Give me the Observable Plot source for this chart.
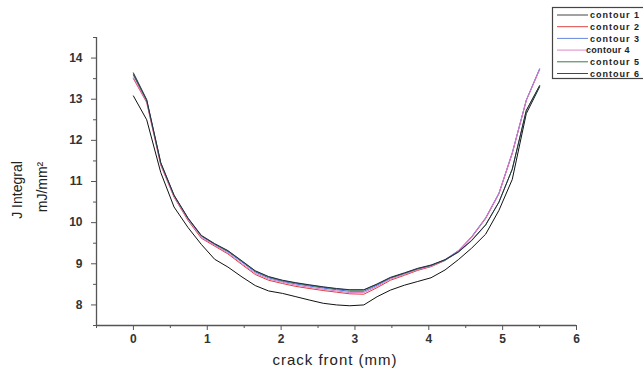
<!DOCTYPE html>
<html>
<head>
<meta charset="utf-8">
<script src="https://cdn.jsdelivr.net/npm/d3@7"></script>
<script src="https://cdn.jsdelivr.net/npm/@observablehq/plot@0.6"></script>
<style>
  html, body { margin: 0; padding: 0; background: #fff; }
  #chart { position: relative; width: 643px; height: 372px; }
</style>
</head>
<body>
<div id="chart"></div>
<script>
// crack-front positions (mm)
const xs = [0, 0.18, 0.37, 0.55, 0.74, 0.92, 1.1, 1.28, 1.47, 1.65, 1.83, 2.02, 2.2, 2.38, 2.57, 2.75, 2.93, 3.12, 3.3, 3.48, 3.67, 3.85, 4.03, 4.22, 4.4, 4.58, 4.77, 4.95, 5.13, 5.32, 5.5];

// J integral (mJ/mm^2) per contour
const contour1 = [13.08, 12.5, 11.22, 10.38, 9.88, 9.47, 9.11, 8.92, 8.68, 8.47, 8.34, 8.28, 8.2, 8.12, 8.04, 8.0, 7.98, 8.0, 8.2, 8.36, 8.48, 8.57, 8.66, 8.85, 9.1, 9.38, 9.72, 10.3, 11.05, 12.65, 13.3];
const contour2 = [13.5, 12.92, 11.4, 10.62, 10.05, 9.62, 9.43, 9.24, 8.98, 8.74, 8.6, 8.52, 8.45, 8.4, 8.35, 8.31, 8.27, 8.26, 8.42, 8.6, 8.72, 8.84, 8.93, 9.08, 9.3, 9.64, 10.1, 10.7, 11.68, 12.97, 13.72];
const contour3 = [13.58, 12.96, 11.44, 10.65, 10.1, 9.67, 9.47, 9.29, 9.04, 8.8, 8.66, 8.57, 8.51, 8.46, 8.41, 8.37, 8.33, 8.33, 8.48, 8.65, 8.76, 8.87, 8.95, 9.1, 9.32, 9.66, 10.12, 10.72, 11.7, 12.98, 13.74];
const contour4 = [13.52, 12.94, 11.42, 10.63, 10.07, 9.64, 9.45, 9.26, 9.0, 8.77, 8.63, 8.55, 8.48, 8.43, 8.38, 8.34, 8.3, 8.3, 8.45, 8.63, 8.74, 8.86, 8.94, 9.09, 9.31, 9.65, 10.11, 10.71, 11.69, 12.97, 13.72];
const contour5 = [13.6, 12.97, 11.45, 10.66, 10.1, 9.68, 9.48, 9.31, 9.06, 8.82, 8.68, 8.59, 8.53, 8.48, 8.43, 8.39, 8.36, 8.36, 8.5, 8.66, 8.77, 8.88, 8.96, 9.09, 9.28, 9.56, 9.94, 10.5, 11.3, 12.72, 13.32];
const contour6 = [13.64, 12.99, 11.46, 10.67, 10.11, 9.69, 9.49, 9.32, 9.07, 8.83, 8.69, 8.6, 8.54, 8.49, 8.44, 8.4, 8.37, 8.37, 8.51, 8.67, 8.78, 8.89, 8.97, 9.1, 9.29, 9.57, 9.95, 10.5, 11.3, 12.73, 13.33];

const seriesNames = ["contour 1", "contour 2", "contour 3", "contour 4", "contour 5", "contour 6"];
const seriesValues = [contour1, contour2, contour3, contour4, contour5, contour6];
const seriesColors = ["#111111", "#e03c3c", "#4a6fe0", "#e07ac8", "#2e7a3a", "#2a2a4a"];
const legendColors = ["#444444", "#dd4444", "#6688dd", "#dd88cc", "#3a7a4a", "#444455"];

const xTicks = [0, 1, 2, 3, 4, 5, 6];
const xMinor = [-0.5, 0.5, 1.5, 2.5, 3.5, 4.5, 5.5];
const yTicks = [8, 9, 10, 11, 12, 13, 14];
const yMinor = [7.5, 8.5, 9.5, 10.5, 11.5, 12.5, 13.5, 14.5];
const xDomain = [-0.5, 6];
const yDomain = [7.5, 14.5];

const lineMarks = seriesNames.map((name, i) =>
  Plot.line(xs.map((x, j) => ({x, y: seriesValues[i][j]})), {x: "x", y: "y", stroke: seriesColors[i], strokeWidth: 1})
);

const plot = Plot.plot({
  width: 643,
  height: 372,
  marginLeft: 96,
  marginRight: 67,
  marginTop: 37,
  marginBottom: 47,
  x: {domain: xDomain},
  y: {domain: yDomain},
  style: {fontFamily: "'Liberation Sans', Arial, sans-serif", fontSize: "12px", fontWeight: "bold", color: "#333", background: "#fff"},
  marks: [
    Plot.axisX(xTicks, {tickSize: 5, tickPadding: 4, label: null, stroke: "#555", fontWeight: "bold", letterSpacing: 1}),
    Plot.axisX(xMinor, {tickSize: 3, tickFormat: () => "", label: null, stroke: "#555"}),
    Plot.axisY(yTicks, {tickSize: 5, tickPadding: 9, label: null, stroke: "#555", fontWeight: "bold", letterSpacing: 1}),
    Plot.axisY(yMinor, {tickSize: 3, tickFormat: () => "", label: null, stroke: "#555"}),
    Plot.ruleY([yDomain[0]], {stroke: "#555", strokeWidth: 1.3}),
    Plot.ruleX([xDomain[0]], {stroke: "#555", strokeWidth: 1.3}),
    ...lineMarks
  ]
});

document.getElementById("chart").appendChild(plot);

const svg = d3.select(plot);
// axis titles
svg.append("text")
  .attr("x", 335).attr("y", 365)
  .attr("text-anchor", "middle")
  .attr("font-size", 15).attr("font-weight", "normal").attr("letter-spacing", 1)
  .attr("fill", "#222")
  .text("crack front (mm)");
svg.append("text")
  .attr("transform", "translate(22,190) rotate(-90)")
  .attr("text-anchor", "middle")
  .attr("font-size", 14).attr("font-weight", "normal")
  .attr("fill", "#222")
  .text("J Integral");
svg.append("text")
  .attr("transform", "translate(47,187) rotate(-90)")
  .attr("text-anchor", "middle")
  .attr("font-size", 14).attr("font-weight", "normal")
  .attr("fill", "#222")
  .text("mJ/mm²");

// legend
const lg = svg.append("g");
lg.append("rect").attr("x", 552.5).attr("y", 7.5).attr("width", 100).attr("height", 71)
  .attr("fill", "#fff").attr("stroke", "#444").attr("stroke-width", 1.2);
seriesNames.forEach((name, i) => {
  const y = 15 + i * 11.7;
  const x2 = i === 3 ? 586 : 588;
  lg.append("line").attr("x1", 557).attr("x2", x2).attr("y1", y).attr("y2", y)
    .attr("stroke", legendColors[i]).attr("stroke-width", 1);
  lg.append("text").attr("x", i === 3 ? 586 : 590).attr("y", y).attr("dy", "0.35em")
    .attr("text-anchor", "start")
    .attr("font-size", 9).attr("font-weight", "bold").attr("letter-spacing", i === 3 ? 0.3 : 1)
    .attr("fill", "#222")
    .text(name);
});
</script>
</body>
</html>
